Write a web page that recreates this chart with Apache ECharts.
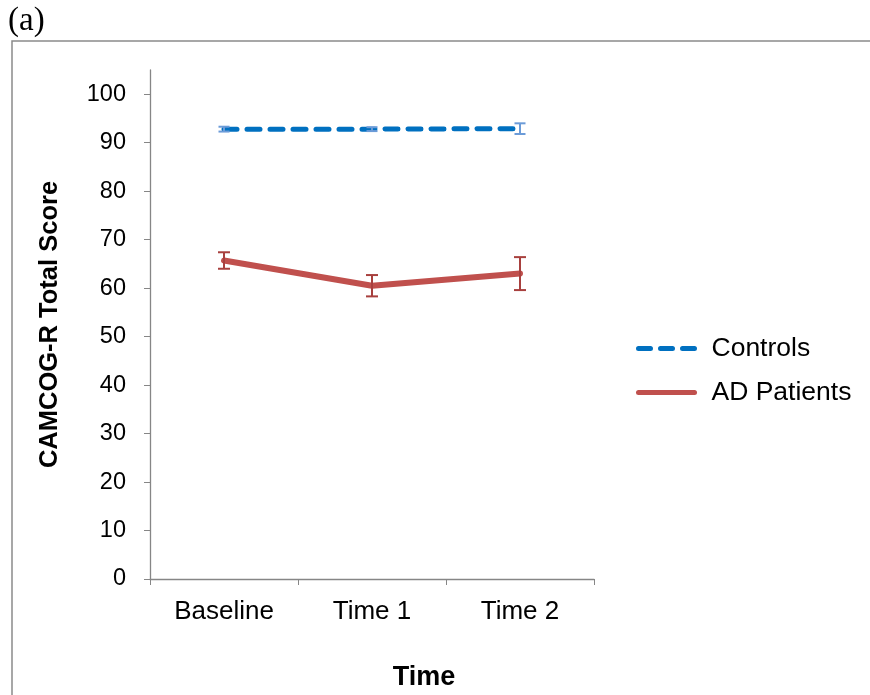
<!DOCTYPE html>
<html>
<head>
<meta charset="utf-8">
<script src="https://cdn.jsdelivr.net/npm/echarts@6/dist/echarts.min.js"></script>
<style>html,body{margin:0;padding:0;background:#fff}#c{width:870px;height:695px}</style>
</head>
<body>
<div id="c"></div>
<script>
const categories = ['Baseline', 'Time 1', 'Time 2'];
const controlsMean = [92.8, 92.8, 92.9];
const controlsErr = [0.5, 0.4, 1.1];
const adMean = [65.7, 60.5, 63.0];
const adErr = [1.7, 2.2, 3.4];
const yTicks = [0, 10, 20, 30, 40, 50, 60, 70, 80, 90, 100];

const FONT = '"Liberation Sans", Arial, sans-serif';

function errData(mean, err) {
  return mean.map((m, i) => [i, m - err[i], m + err[i]]);
}
function errRender(color, capW) {
  return function (params, api) {
    const x = api.value(0);
    const lo = api.coord([x, api.value(1)]);
    const hi = api.coord([x, api.value(2)]);
    const style = { stroke: color, lineWidth: 2 };
    return {
      type: 'group',
      children: [
        { type: 'line', shape: { x1: lo[0], y1: lo[1], x2: hi[0], y2: hi[1] }, style },
        { type: 'line', shape: { x1: lo[0] - capW / 2, y1: lo[1], x2: lo[0] + capW / 2, y2: lo[1] }, style },
        { type: 'line', shape: { x1: hi[0] - capW / 2, y1: hi[1], x2: hi[0] + capW / 2, y2: hi[1] }, style }
      ]
    };
  };
}

const dashIcon = 'path://M2.5,0h12a2.5,2.5 0 0 1 0,5h-12a2.5,2.5 0 0 1 0,-5z M24.5,0h12a2.5,2.5 0 0 1 0,5h-12a2.5,2.5 0 0 1 0,-5z M46.5,0h12a2.5,2.5 0 0 1 0,5h-12a2.5,2.5 0 0 1 0,-5z';
const solidIcon = 'path://M2.5,0h56a2.5,2.5 0 0 1 0,5h-56a2.5,2.5 0 0 1 0,-5z';

const chart = echarts.init(document.getElementById('c'), null, { renderer: 'canvas' });
chart.setOption({
  animation: false,
  backgroundColor: '#ffffff',
  graphic: [
    { type: 'rect', shape: { x: 12, y: 41, width: 900, height: 700 }, style: { fill: 'none', stroke: '#8a8a8a', lineWidth: 1.5 }, silent: true },
    { type: 'text', left: 8, top: 5, style: { text: '(a)', font: '33px "Liberation Serif", "Times New Roman", serif', fill: '#000' } }
  ],
  title: {
    text: 'Time',
    left: 424,
    top: 664,
    textAlign: 'center',
    padding: 0,
    textStyle: { fontFamily: FONT, fontSize: 27, fontWeight: 'bold', color: '#000' }
  },
  grid: { left: 150, right: 276, top: 70, bottom: 116 },
  legend: {
    orient: 'vertical',
    left: 631,
    top: 330,
    itemWidth: 62,
    itemHeight: 5,
    itemGap: 17,
    textStyle: { fontFamily: FONT, fontSize: 26.5, color: '#000', padding: [0, 0, 0, 9] },
    data: [
      { name: 'Controls', icon: dashIcon, itemStyle: { color: '#0070C0' } },
      { name: 'AD Patients', icon: solidIcon, itemStyle: { color: '#C0504D' } }
    ]
  },
  xAxis: {
    type: 'category',
    data: categories,
    boundaryGap: true,
    axisLine: { lineStyle: { color: '#868686', width: 1.3 } },
    axisTick: { show: true, length: 6, inside: false, lineStyle: { color: '#868686' } },
    axisLabel: { fontFamily: FONT, fontSize: 26, color: '#000', margin: 20 }
  },
  yAxis: {
    type: 'value',
    min: 0,
    max: 105,
    splitLine: { show: false },
    axisLine: { show: true, lineStyle: { color: '#868686', width: 1.3 } },
    axisTick: { show: true, length: 6, customValues: yTicks, lineStyle: { color: '#868686' } },
    axisLabel: { fontFamily: FONT, fontSize: 23.5, color: '#000', margin: 24, customValues: yTicks },
    name: 'CAMCOG-R Total Score',
    nameLocation: 'middle',
    nameGap: 87,
    nameTextStyle: { fontFamily: FONT, fontSize: 25.5, fontWeight: 'bold', color: '#000' }
  },
  series: [
    {
      name: 'Controls',
      type: 'line',
      data: controlsMean,
      symbol: 'none',
      color: '#0070C0',
      lineStyle: { color: '#0070C0', width: 5, type: [13, 10], cap: 'round' },
      z: 3
    },
    {
      name: 'AD Patients',
      type: 'line',
      data: adMean,
      symbol: 'none',
      color: '#C0504D',
      lineStyle: { color: '#C0504D', width: 6, cap: 'round', join: 'round' },
      z: 3
    },
    {
      name: 'ctrlErr',
      type: 'custom',
      data: errData(controlsMean, controlsErr),
      renderItem: errRender('#6b9bd8', 11),
      encode: { x: 0, y: [1, 2] },
      z: 4
    },
    {
      name: 'adErr',
      type: 'custom',
      data: errData(adMean, adErr),
      renderItem: errRender('#a8403e', 12),
      encode: { x: 0, y: [1, 2] },
      z: 4
    }
  ]
});
</script>
</body>
</html>
